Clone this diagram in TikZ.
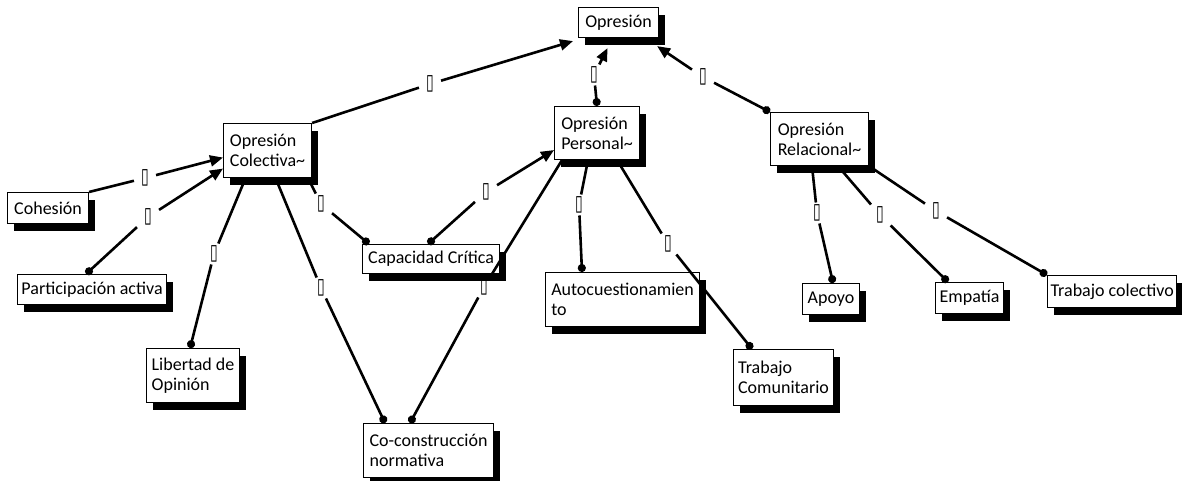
\documentclass[tikz,border=0pt]{standalone}
\usepackage{fontspec}
\setmainfont{Carlito}
\newfontfamily\djv{DejaVu Sans}
\usetikzlibrary{arrows.meta,shadows,calc}
\tikzset{
  box/.style={draw=black, line width=1.1pt, fill=white,
    drop shadow={shadow xshift=6pt, shadow yshift=-7pt, fill=black, opacity=1},
    align=left, anchor=north west, inner xsep=3pt, inner ysep=0pt,
    font=\fontsize{18}{20}\selectfont},
  lab/.style={font=\djv\fontsize{14}{14}\selectfont, inner xsep=7pt, inner ysep=2pt},
  conn/.style={line width=2.6pt},
  arr/.style={conn, -{Triangle[length=13pt,width=11pt]}},
  dot/.style={conn, -{Circle[length=8pt]}},
  dotst/.style={conn, {Circle[length=8pt]}-},
}
\newcommand{\tofu}{\scalebox{1}[1.55]{▯}}
\begin{document}
\begin{tikzpicture}[x=1pt,y=-1pt]
\useasboundingbox (0,0) rectangle (1182,481);
% concepts
\node[box, minimum width=80pt, minimum height=30pt] (op) at (578,7) {Opresión};
\node[box, minimum width=88pt, minimum height=54pt] (col) at (223,123) {Opresión\\Colectiva\textasciitilde};
\node[box, minimum width=81pt, minimum height=31pt] (coh) at (7,192) {Cohesión};
\node[box, minimum width=149pt, minimum height=30pt] (par) at (17,274) {Participación activa};
\node[box, minimum width=93pt, minimum height=54pt] (lib) at (146,348) {Libertad de\\Opinión};
\node[box, minimum width=137pt, minimum height=29pt] (cap) at (362,244) {Capacidad Crítica};
\node[box, minimum width=130pt, minimum height=54pt] (cc) at (363,423) {Co-construcción\\normativa};
\node[box, minimum width=85pt, minimum height=53pt] (per) at (554,106) {Opresión\\Personal\textasciitilde};
\node[box, minimum width=154pt, minimum height=54pt] (auto) at (545,272) {Autocuestionamien\\to\hphantom{cuestionamien}};
\node[box, minimum width=100pt, minimum height=56pt] (tc) at (733,349) {Trabajo\\Comunitario};
\node[box, minimum width=98pt, minimum height=53pt] (rel) at (770,112) {Opresión\\Relacional\textasciitilde};
\node[box, minimum width=57pt, minimum height=31pt] (apo) at (802,283) {Apoyo};
\node[box, minimum width=68pt, minimum height=31pt] (emp) at (935,282) {Empatía};
\node[box, minimum width=116pt, minimum height=32pt] (tcol) at (1047,275) {Trabajo colectivo};
% linking labels
\node[lab] (l1) at (430,84) {\tofu};
\node[lab] (l2) at (594,75) {\tofu};
\node[lab] (l3) at (703,77) {\tofu};
\node[lab] (l4) at (145,178) {\tofu};
\node[lab] (l5) at (148,217) {\tofu};
\node[lab] (l6) at (214,254) {\tofu};
\node[lab] (l7) at (321,204) {\tofu};
\node[lab] (l8) at (321,288) {\tofu};
\node[lab] (l9) at (486,192) {\tofu};
\node[lab] (l10) at (484,287) {\tofu};
\node[lab] (l11) at (579,205) {\tofu};
\node[lab] (l12) at (668,244) {\tofu};
\node[lab] (l13) at (817,213) {\tofu};
\node[lab] (l14) at (880,215) {\tofu};
\node[lab] (l15) at (936,211) {\tofu};
% connectors
\draw[conn] (col.north east) -- (l1);
\draw[arr] (l1) -- ($(op.south west)+(-5,3)$);
\draw[dotst] (per.north) -- (l2);
\draw[arr] (l2) -- ($(op.south)+(-11,10)$);
\draw[dotst] (rel.north west) -- (l3);
\draw[arr] (l3) -- ($(op.south east)+(-2,8)$);
\draw[conn] (coh.north east) -- (l4);
\draw[arr] (l4) -- ($(col.west)+(0,7)$);
\draw[dotst] ($(par.north)+(-6,0)$) -- (l5);
\draw[arr] (l5) -- ($(col.west)+(0,18)$);
\draw[dotst] ($(lib.north)+(-3,0)$) -- (l6);
\draw[conn] (l6) -- ($(col.south)+(-22,0)$);
\draw[conn] ($(col.south east)+(-4,0)$) -- (l7);
\draw[dot] (l7) -- ($(cap.north west)+(7,0)$);
\draw[conn] ($(col.south)+(8,0)$) -- (l8);
\draw[dot] (l8) -- ($(cc.north west)+(22,0)$);
\draw[dotst] ($(cap.north)+(-3,0)$) -- (l9);
\draw[arr] (l9) -- ($(per.west)+(0,17)$);
\draw[conn] ($(per.south west)+(8,0)$) -- (l10);
\draw[dot] (l10) -- ($(cc.north west)+(47,0)$);
\draw[conn] ($(per.south)+(-9,0)$) -- (l11);
\draw[dot] (l11) -- ($(auto.north west)+(37,0)$);
\draw[conn] ($(per.south east)+(-23,0)$) -- (l12);
\draw[dot] (l12) -- ($(tc.north west)+(19,0)$);
\draw[conn] ($(rel.south west)+(42,0)$) -- (l13);
\draw[dot] (l13) -- ($(apo.north)+(2,0)$);
\draw[conn] ($(rel.south west)+(68,0)$) -- (l14);
\draw[dot] (l14) -- ($(emp.north west)+(13,0)$);
\draw[conn] (rel.south east) -- (l15);
\draw[dot] (l15) -- (tcol.north west);
\end{tikzpicture}
\end{document}
